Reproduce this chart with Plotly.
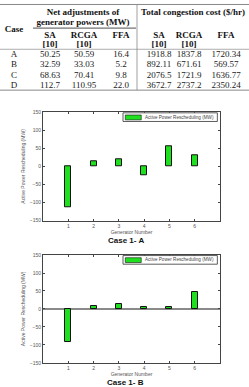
import plotly.graph_objects as go

# ---------------- data ----------------
cases = ["A", "B", "C", "D"]
net_sa = ["50.25", "32.59", "68.63", "112.7"]
net_rcga = ["50.59", "33.03", "70.41", "110.95"]
net_ffa = ["16.4", "5.2", "9.8", "22.0"]
cost_sa = ["1918.8", "892.11", "2076.5", "3672.7"]
cost_rcga = ["1837.8", "671.61", "1721.9", "2737.2"]
cost_ffa = ["1720.34", "569.57", "1636.77", "2350.24"]

generators = [1, 2, 3, 4, 5, 6]
resched_a = [-113, 14, 21, -25, 55, 32]
resched_b = [-93, 8, 12.5, 6, 4, 48]
yticks = [-150, -100, -50, 0, 50, 100, 150]

# ---------------- layout helpers ----------------
W, H = 249, 387


def py(p):
    return 1 - p / H


GREEN = "#1fe01f"
SERIF = "Liberation Serif"
SANS = "Liberation Sans"
AX = "#444444"

fig = go.Figure()

# table (drawn in its own hidden axis whose units are pixels)
col_x = [14, 50, 84, 121, 159, 189, 226]
row_y = [52.5, 63, 73.5, 84]
columns = [cases, net_sa, net_rcga, net_ffa, cost_sa, cost_rcga, cost_ffa]
for cx, col in zip(col_x, columns):
    fig.add_trace(go.Scatter(
        x=[cx] * len(col), y=row_y, text=col, mode="text",
        textfont=dict(family=SERIF, size=9, color="#1a1a1a"),
        xaxis="x3", yaxis="y3", showlegend=False, hoverinfo="skip",
        cliponaxis=False))

hdr = [
    (83, 10, "Net adjustments of"),
    (83, 20.5, "generator powers (MW)"),
    (193, 10, "Total congestion cost ($/hr)"),
    (14, 27, "Case"),
    (col_x[1], 33, "SA"), (col_x[2], 33, "RCGA"), (col_x[3], 33, "FFA"),
    (col_x[4], 33, "SA"), (col_x[5], 33, "RCGA"), (col_x[6], 33, "FFA"),
    (col_x[1], 42, "[10]"), (col_x[2], 42, "[10]"),
    (col_x[4], 42, "[10]"), (col_x[5], 42, "[10]"),
]
fig.add_trace(go.Scatter(
    x=[h[0] for h in hdr], y=[h[1] for h in hdr], text=[h[2] for h in hdr],
    mode="text", textfont=dict(family=SERIF, size=9, color="#111", weight="bold"),
    xaxis="x3", yaxis="y3", showlegend=False, hoverinfo="skip", cliponaxis=False))

lines = [
    (0, 1.5, 249, 1.5, "#888", 1),
    (33, 25.5, 136, 25.5, "#222", 0.8),
    (0, 47, 249, 47, "#999", 0.8),
    (0, 88.5, 249, 88.5, "#888", 1),
    (137, 1.5, 137, 88.5, "#888", 0.8),
]
for x0, y0, x1, y1, c, w in lines:
    fig.add_shape(type="line", x0=x0, y0=y0, x1=x1, y1=y1, xref="x3", yref="y3",
                  line=dict(color=c, width=w))

# bar charts
for i, vals in enumerate([resched_a, resched_b]):
    xa = "x" if i == 0 else "x2"
    ya = "y" if i == 0 else "y2"
    fig.add_trace(go.Bar(
        x=generators, y=vals, width=0.24, xaxis=xa, yaxis=ya,
        marker=dict(color=GREEN, line=dict(color="#111", width=1)),
        name="Active Power Rescheduling (MW)", showlegend=False))

axis_common = dict(
    showgrid=False, showline=True, linecolor=AX, linewidth=1, mirror="ticks",
    ticks="inside", ticklen=2, tickcolor=AX, tickwidth=0.8,
    tickfont=dict(family=SANS, size=5, color="#555"),
)
xdom = [43 / W, 220 / W]
ydom1 = [py(221), py(111)]
ydom2 = [py(365.5), py(256)]

for i, (yd, zl) in enumerate([(ydom1, False), (ydom2, True)]):
    sx = "" if i == 0 else "2"
    fig.update_layout(**{
        "xaxis" + sx: dict(domain=xdom, anchor="y" + sx, range=[0, 7],
                           tickmode="array", tickvals=generators,
                           ticktext=[str(g) for g in generators], zeroline=False,
                           title=dict(text="Generator Number", standoff=1,
                                      font=dict(family=SANS, size=5, color="#555")),
                           **axis_common),
        "yaxis" + sx: dict(domain=yd, anchor="x" + sx, range=[-150, 150],
                           tickmode="array", tickvals=yticks, zeroline=zl,
                           zerolinecolor="#8a8a8a", zerolinewidth=1.5,
                           title=dict(text="Active Power Rescheduling (MW)", standoff=3,
                                      font=dict(family=SANS, size=5, color="#555")),
                           **axis_common),
    })
    # manual legend box inside the axes
    xr = "x" + sx + " domain" if sx else "x domain"
    yr = "y" + sx + " domain" if sx else "y domain"
    fig.add_shape(type="rect", xref=xr, yref=yr, x0=0.452, x1=0.985, y0=0.915, y1=0.995,
                  line=dict(color="#333", width=0.8), fillcolor="white")
    fig.add_shape(type="rect", xref=xr, yref=yr, x0=0.465, x1=0.555, y0=0.93, y1=0.975,
                  line=dict(color="#111", width=0.6), fillcolor=GREEN)
    fig.add_annotation(xref=xr, yref=yr, x=0.565, y=0.955, xanchor="left", yanchor="middle",
                       text="Active Power Rescheduling (MW)", showarrow=False,
                       font=dict(family=SANS, size=4.6, color="#444"))

fig.update_layout(
    xaxis3=dict(domain=[0, 1], anchor="y3", range=[0, W], visible=False),
    yaxis3=dict(domain=[py(90), 1], anchor="x3", range=[90, 0], visible=False),
)

for txt, ypix in [("Case 1- A", 241), ("Case 1- B", 385.5)]:
    fig.add_annotation(xref="paper", yref="paper", x=126 / W, y=py(ypix), text="<b>" + txt + "</b>",
                       showarrow=False, xanchor="center", yanchor="middle",
                       font=dict(family=SANS, size=8, color="#111"))

fig.update_layout(
    width=W, height=H, margin=dict(l=0, r=0, t=0, b=0),
    paper_bgcolor="white", plot_bgcolor="white", showlegend=False, bargap=0,
)

fig.write_html("out.html")
